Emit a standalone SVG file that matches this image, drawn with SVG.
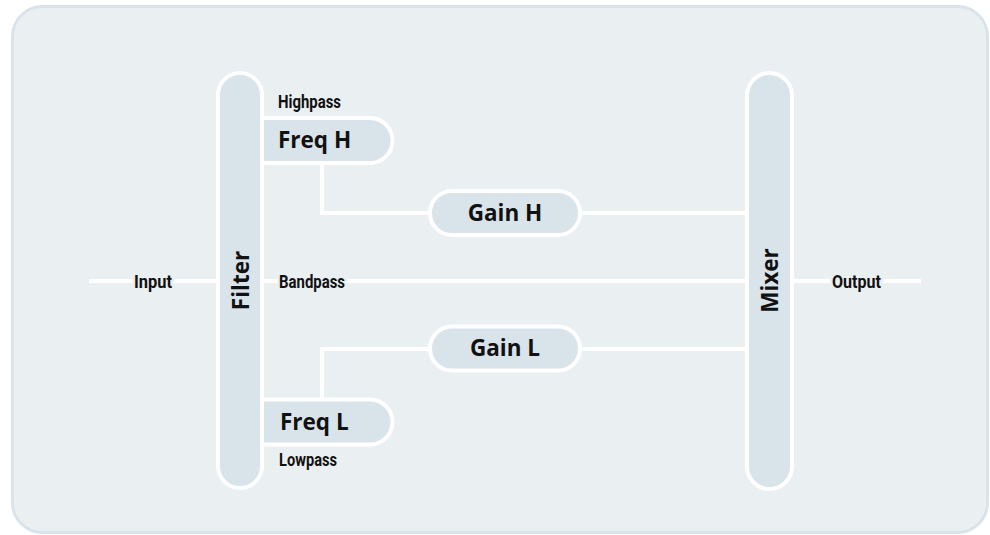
<svg xmlns="http://www.w3.org/2000/svg" width="990" height="535" viewBox="0 0 990 535">
  <defs>
    <style>
      .panel { fill: #eaeff2; stroke: #dae3ea; stroke-width: 3; }
      .pill { fill: #d9e3ea; stroke: #ffffff; stroke-width: 4; }
      .wire { fill: none; stroke: #ffffff; stroke-width: 4; }
      .big { font-family: "Open Sans", "Liberation Sans", sans-serif; font-weight: 700; font-size: 22.5px; fill: #111111; }
      .small { font-family: Roboto, "Liberation Sans", sans-serif; font-weight: 700; font-size: 18.5px; fill: #111111; }
      .halo { stroke: #eaeff2; stroke-width: 6; paint-order: stroke; stroke-linejoin: round; }
    </style>
  </defs>
  <rect width="990" height="535" fill="#ffffff"/>
  <rect class="panel" x="12.5" y="6.5" width="975" height="526" rx="30"/>

  <g id="connectors">
    <line class="wire" x1="89" y1="281" x2="218" y2="281"/>
    <line class="wire" x1="262" y1="281" x2="747" y2="281"/>
    <line class="wire" x1="792" y1="281" x2="921" y2="281"/>
    <polyline class="wire" points="322,163 322,213 430,213"/>
    <line class="wire" x1="580" y1="213" x2="747" y2="213"/>
    <polyline class="wire" points="322,399 322,349 430,349"/>
    <line class="wire" x1="580" y1="349" x2="747" y2="349"/>
  </g>

  <g id="freq-h">
    <path class="pill" d="M250 118 H370 A22.5 22.5 0 0 1 370 163 H250 Z"/>
    <text class="big" x="278" y="148">Freq H</text>
  </g>
  <g id="freq-l">
    <path class="pill" d="M250 399.5 H370 A22.5 22.5 0 0 1 370 444.5 H250 Z"/>
    <text class="big" x="280" y="429.5">Freq L</text>
  </g>

  <g id="filter">
    <rect class="pill" x="218" y="73" width="44" height="415" rx="22"/>
    <text class="big" text-anchor="middle" transform="translate(249,280.5) rotate(-90)">Filter</text>
  </g>

  <g id="mixer">
    <rect class="pill" x="747" y="73" width="45" height="416" rx="22.5"/>
    <text class="big" text-anchor="middle" transform="translate(778,280.5) rotate(-90)">Mixer</text>
  </g>

  <g id="gain-h">
    <rect class="pill" x="430" y="191" width="150" height="44" rx="22"/>
    <text class="big" x="505" y="221" text-anchor="middle">Gain H</text>
  </g>
  <g id="gain-l">
    <rect class="pill" x="430" y="326.5" width="150" height="44" rx="22"/>
    <text class="big" x="505" y="356" text-anchor="middle">Gain L</text>
  </g>

  <g id="labels">
    <text class="small" x="278" y="108" textLength="63" lengthAdjust="spacingAndGlyphs">Highpass</text>
    <text class="small" x="279" y="466" textLength="58" lengthAdjust="spacingAndGlyphs">Lowpass</text>
    <text class="small halo" x="279" y="287.5" textLength="66" lengthAdjust="spacingAndGlyphs">Bandpass</text>
    <text class="small halo" x="134" y="287.5" textLength="38" lengthAdjust="spacingAndGlyphs">Input</text>
    <text class="small halo" x="832" y="287.5" textLength="49" lengthAdjust="spacingAndGlyphs">Output</text>
  </g>
</svg>
